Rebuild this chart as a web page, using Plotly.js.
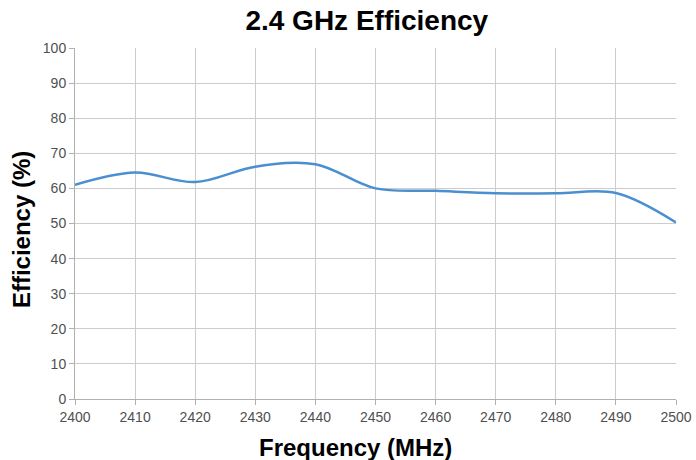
<!DOCTYPE html>
<html>
<head>
<meta charset="utf-8">
<script src="https://cdn.plot.ly/plotly-3.0.1.min.js"></script>
<style>html,body{margin:0;padding:0;background:#fff;}#chart{width:696px;height:460px;}</style>
</head>
<body>
<div id="chart"></div>
<script>
const frequency = [2400, 2410, 2420, 2430, 2440, 2450, 2460, 2470, 2480, 2490, 2500];
const efficiency = [61.0, 64.5, 61.8, 66.2, 66.9, 60.0, 59.3, 58.6, 58.6, 58.7, 50.3];
const xTicks = [2400, 2410, 2420, 2430, 2440, 2450, 2460, 2470, 2480, 2490, 2500];
const yTicks = [0, 10, 20, 30, 40, 50, 60, 70, 80, 90, 100];

const trace = {
  x: frequency, y: efficiency, type: 'scatter', mode: 'lines',
  line: {color: '#4a8fd0', width: 2.5, shape: 'spline', smoothing: 1},
  hoverinfo: 'skip'
};
const layout = {
  width: 696, height: 460,
  margin: {l: 75, r: 20, t: 48, b: 61},
  paper_bgcolor: '#fff', plot_bgcolor: '#fff',
  showlegend: false,
  font: {family: 'Liberation Sans, Arial, sans-serif', color: '#505050', size: 14},
  title: {text: '<b>2.4 GHz Efficiency</b>', font: {size: 28, color: '#000'}, x: 0.527, xanchor: 'center', y: 0.956, yanchor: 'middle'},
  xaxis: {
    range: [2400, 2500], tickvals: xTicks, ticktext: xTicks.map(String),
    showgrid: true, gridcolor: '#cccccc', gridwidth: 1,
    showline: true, linecolor: '#b0b0b0', linewidth: 1,
    ticks: 'outside', ticklen: 5, tickcolor: '#b0b0b0',
    zeroline: false, fixedrange: true
  },
  yaxis: {
    range: [0, 100], tickvals: yTicks, ticktext: yTicks.map(String),
    showgrid: true, gridcolor: '#cccccc', gridwidth: 1,
    showline: true, linecolor: '#b0b0b0', linewidth: 1,
    ticks: 'outside', ticklen: 5, tickcolor: '#b0b0b0',
    zeroline: false, fixedrange: true
  },
  annotations: [
    {text: '<b>Frequency (MHz)</b>', xref: 'paper', yref: 'paper', x: 0.466, y: -0.137,
     xanchor: 'center', yanchor: 'middle', showarrow: false, font: {size: 24, color: '#000'}},
    {text: '<b>Efficiency (%)</b>', xref: 'paper', yref: 'paper', x: -0.0899, y: 0.484,
     xanchor: 'center', yanchor: 'middle', textangle: -90, showarrow: false, font: {size: 24, color: '#000'}}
  ]
};
Plotly.newPlot('chart', [trace], layout, {staticPlot: true, displayModeBar: false});
</script>
</body>
</html>
